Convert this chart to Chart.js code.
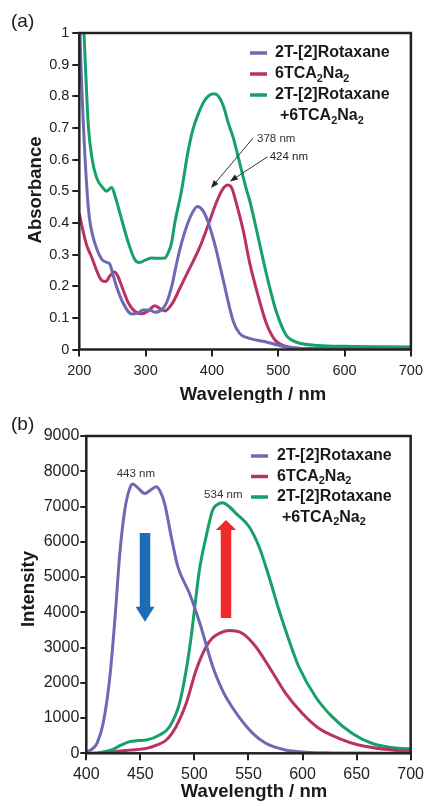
<!DOCTYPE html>
<html>
<head>
<meta charset="utf-8">
<script src="https://cdn.jsdelivr.net/npm/chart.js@4.4.1/dist/chart.umd.min.js"></script>
<style>
html, body { margin: 0; padding: 0; background: #fff; }
canvas { display: block; }
</style>
</head>
<body>
<canvas id="absChart" width="429" height="403"></canvas>
<canvas id="emChart" width="429" height="403"></canvas>
<script>
// series names ("_2" = subscript 2, "|" = second legend line)
const seriesNames = ['2T-[2]Rotaxane', '6TCA_2Na_2', '2T-[2]Rotaxane|+6TCA_2Na_2'];
const seriesColors = ['#6d69b3', '#b83268', '#17a067'];

// (a) absorbance
const absTickLabels = ['0', '0.1', '0.2', '0.3', '0.4', '0.5', '0.6', '0.7', '0.8', '0.9', '1'];
const absWlTicks = [200, 300, 400, 500, 600, 700];

const rotAbsWl = [200, 201, 206, 212, 215, 219, 226, 234, 242, 246, 251, 256, 266, 279, 288, 296, 306, 314, 322, 328, 332, 340, 347, 354, 362, 370, 378, 386, 392, 397, 402, 407, 412, 417, 432, 442, 452, 462, 477, 492, 512, 530, 560, 600, 700];
const rotAbsVal = [1.1, 1.0, 0.72, 0.49, 0.42, 0.37, 0.32, 0.285, 0.275, 0.27, 0.235, 0.2, 0.147, 0.112, 0.115, 0.125, 0.125, 0.118, 0.122, 0.135, 0.15, 0.205, 0.275, 0.335, 0.39, 0.43, 0.452, 0.44, 0.415, 0.385, 0.35, 0.31, 0.265, 0.22, 0.09, 0.05, 0.038, 0.032, 0.026, 0.018, 0.008, 0.004, 0.002, 0.002, 0.002];

const tcaAbsWl = [200, 204, 211, 219, 227, 234, 240, 246, 253, 258, 264, 274, 284, 294, 304, 314, 321, 329, 340, 352, 362, 372, 382, 392, 398, 404, 412, 418, 424, 430, 437, 447, 457, 470, 482, 495, 505, 515, 530, 560, 700];
const tcaAbsVal = [0.43, 0.39, 0.33, 0.29, 0.245, 0.218, 0.215, 0.232, 0.245, 0.232, 0.2, 0.147, 0.12, 0.113, 0.122, 0.138, 0.13, 0.122, 0.145, 0.195, 0.238, 0.28, 0.325, 0.38, 0.415, 0.45, 0.49, 0.512, 0.52, 0.51, 0.46, 0.378, 0.273, 0.167, 0.083, 0.03, 0.015, 0.008, 0.004, 0.003, 0.003];

const mixAbsWl = [200, 207, 210, 213.5, 219, 226, 236, 241, 249, 254, 264, 274, 284, 291, 300, 309, 320, 329, 335, 339, 344, 354, 364, 372, 379, 387, 394, 403, 410, 418, 424, 432, 440, 452, 457, 467, 482, 497, 512, 522, 532, 560, 600, 700];
const mixAbsVal = [1.2, 1.0, 0.86, 0.71, 0.606, 0.543, 0.51, 0.5, 0.512, 0.484, 0.41, 0.337, 0.283, 0.275, 0.283, 0.289, 0.288, 0.289, 0.31, 0.336, 0.4, 0.5, 0.626, 0.7, 0.742, 0.78, 0.8, 0.808, 0.8, 0.765, 0.72, 0.67, 0.605, 0.505, 0.47, 0.38, 0.24, 0.12, 0.045, 0.028, 0.02, 0.013, 0.01, 0.008];

// (b) emission
const emTickLabels = ['0', '1000', '2000', '3000', '4000', '5000', '6000', '7000', '8000', '9000'];
const emWlTicks = [400, 450, 500, 550, 600, 650, 700];

const rotEmWl = [400, 405, 410, 415.6, 421.8, 426.4, 431, 435.6, 440, 443, 448, 454, 460, 464.8, 468, 472.4, 478.6, 484.7, 495.4, 505, 517, 523, 529, 541, 554, 566, 584, 600, 620, 650, 700];
const rotEmVal = [45, 110, 290, 850, 2170, 3780, 5670, 6900, 7500, 7640, 7520, 7370, 7480, 7560, 7450, 7090, 6140, 5290, 4540, 3690, 2455, 1985, 1605, 1040, 567, 284, 94, 40, 15, 5, 0];

const tcaEmWl = [400, 420, 428, 440, 455.6, 465, 474, 483, 492.4, 501.6, 510.8, 516, 523, 532, 544.5, 556.8, 569, 584.4, 599.7, 615, 633.5, 652, 676, 700];
const tcaEmVal = [0, 10, 50, 90, 140, 230, 377, 755, 1418, 2362, 3023, 3250, 3400, 3480, 3400, 3023, 2455, 1700, 1134, 709, 425, 235, 113, 50];

const mixEmWl = [400, 410, 418, 424.8, 432, 440.2, 448, 455.6, 467.8, 477, 486.2, 492.4, 497, 500, 504.6, 510.8, 516.9, 521, 526, 532, 538.4, 550.6, 559.8, 569, 578.2, 587.4, 596.6, 612, 627.3, 645.7, 664, 688.6, 700];
const mixEmVal = [0, 10, 50, 113, 230, 330, 360, 377, 520, 755, 1418, 2362, 3307, 4064, 5200, 6143, 6900, 7050, 7107, 7000, 6807, 6427, 5860, 5008, 4064, 3213, 2455, 1605, 1040, 567, 284, 140, 130];

const FONT = '"Liberation Sans", Arial, Helvetica, sans-serif';

function toPoints(xs, ys) {
    return xs.map((v, i) => ({ x: v, y: ys[i] }));
}

// text with "_2" style subscripts
function drawRich(ctx, text, x, y, size, weight) {
    const parts = text.split(/(_\d)/).filter(Boolean);
    let cx = x;
    parts.forEach(p => {
        if (p[0] === '_') {
            ctx.font = weight + ' ' + (size * 0.68) + 'px ' + FONT;
            ctx.fillText(p.slice(1), cx, y + size * 0.3);
            cx += ctx.measureText(p.slice(1)).width;
        } else {
            ctx.font = weight + ' ' + size + 'px ' + FONT;
            ctx.fillText(p, cx, y);
            cx += ctx.measureText(p).width;
        }
    });
}

function drawArrowLine(ctx, x1, y1, x2, y2) {
    const ang = Math.atan2(y2 - y1, x2 - x1);
    const hl = 8, hw = 3;
    ctx.strokeStyle = '#333';
    ctx.fillStyle = '#222';
    ctx.lineWidth = 1;
    ctx.beginPath();
    ctx.moveTo(x1, y1);
    ctx.lineTo(x2 - Math.cos(ang) * hl, y2 - Math.sin(ang) * hl);
    ctx.stroke();
    ctx.beginPath();
    ctx.moveTo(x2, y2);
    ctx.lineTo(x2 - Math.cos(ang) * hl - Math.sin(ang) * hw, y2 - Math.sin(ang) * hl + Math.cos(ang) * hw);
    ctx.lineTo(x2 - Math.cos(ang) * hl + Math.sin(ang) * hw, y2 - Math.sin(ang) * hl - Math.cos(ang) * hw);
    ctx.closePath();
    ctx.fill();
}

const decorPlugin = {
    id: 'decor',
    beforeDatasetsDraw(chart, args, opts) {
        const { ctx, scales: { x, y } } = chart;
        ctx.save();
        // fat block arrows (b)
        (opts.blockArrows || []).forEach(ar => {
            const cx = x.getPixelForValue(ar.wl);
            const yTail = y.getPixelForValue(ar.tail);
            const yBase = y.getPixelForValue(ar.base);
            const yTip = y.getPixelForValue(ar.tip);
            ctx.fillStyle = ar.color;
            ctx.beginPath();
            ctx.moveTo(cx - ar.shaft / 2, yTail);
            ctx.lineTo(cx + ar.shaft / 2, yTail);
            ctx.lineTo(cx + ar.shaft / 2, yBase);
            ctx.lineTo(cx + ar.head / 2, yBase);
            ctx.lineTo(cx, yTip);
            ctx.lineTo(cx - ar.head / 2, yBase);
            ctx.lineTo(cx - ar.shaft / 2, yBase);
            ctx.closePath();
            ctx.fill();
        });
        ctx.restore();
    },
    afterDraw(chart, args, opts) {
        const { ctx, chartArea: a, scales: { x, y } } = chart;
        ctx.save();
        // frame
        ctx.strokeStyle = '#222';
        ctx.lineWidth = 2.5;
        ctx.strokeRect(a.left, a.top, a.right - a.left, a.bottom - a.top);

        ctx.fillStyle = '#1a1a1a';
        ctx.textBaseline = 'middle';
        // panel label
        ctx.textAlign = 'left';
        ctx.font = '19px ' + FONT;
        ctx.fillText(opts.panel, 11, 22);

        // axis titles
        ctx.font = 'bold 18.5px ' + FONT;
        ctx.textAlign = 'center';
        ctx.fillText('Wavelength / nm', opts.xTitle[0], opts.xTitle[1]);
        ctx.save();
        ctx.translate(opts.yTitle[0], opts.yTitle[1]);
        ctx.rotate(-Math.PI / 2);
        ctx.fillText(opts.yTitleText, 0, 0);
        ctx.restore();

        // legend
        ctx.textAlign = 'left';
        const lg = opts.legend;
        let row = 0;
        seriesNames.forEach((name, i) => {
            const lines = name.split('|');
            const ly = lg.top + row * lg.step;
            ctx.strokeStyle = seriesColors[i];
            ctx.lineWidth = 3.5;
            ctx.beginPath();
            ctx.moveTo(lg.lineX, ly);
            ctx.lineTo(lg.lineX + 17, ly);
            ctx.stroke();
            ctx.fillStyle = '#1a1a1a';
            lines.forEach((t, k) => {
                drawRich(ctx, t, lg.textX + (k > 0 ? 5 : 0), lg.top + (row + k) * lg.step, 16, 'bold');
            });
            row += lines.length;
        });

        // small annotations
        ctx.fillStyle = '#333';
        (opts.notes || []).forEach(n => {
            ctx.font = '11.5px ' + FONT;
            ctx.textAlign = n.align;
            ctx.fillText(n.text, x.getPixelForValue(n.wl), y.getPixelForValue(n.v));
            if (n.arrow) {
                drawArrowLine(ctx,
                    x.getPixelForValue(n.arrow[0]), y.getPixelForValue(n.arrow[1]),
                    x.getPixelForValue(n.arrow[2]), y.getPixelForValue(n.arrow[3]));
            }
        });
        ctx.restore();
    }
};

function makeChart(id, cfg) {
    const ctx = document.getElementById(id).getContext('2d');
    return new Chart(ctx, {
        type: 'line',
        data: {
            datasets: cfg.series.map((s, i) => ({
                label: seriesNames[i],
                data: toPoints(s[0], s[1]),
                borderColor: seriesColors[i],
                borderWidth: 3,
                pointRadius: 0,
                fill: false,
                tension: 0.4,
                cubicInterpolationMode: 'monotone'
            }))
        },
        options: {
            responsive: false,
            animation: false,
            devicePixelRatio: 1,
            layout: { padding: { top: 33, right: cfg.right, left: 0, bottom: 0 } },
            plugins: {
                legend: { display: false },
                tooltip: { enabled: false },
                decor: cfg.decor
            },
            scales: {
                x: {
                    type: 'linear',
                    min: cfg.xTicks[0],
                    max: cfg.xTicks[cfg.xTicks.length - 1],
                    afterBuildTicks: sc => { sc.ticks = cfg.xTicks.map(v => ({ value: v })); },
                    afterFit: sc => { sc.height = cfg.xHeight; },
                    border: { display: false },
                    grid: { drawOnChartArea: false, drawTicks: true, tickLength: 7, color: '#222', lineWidth: 2 },
                    ticks: {
                        color: '#222',
                        padding: cfg.xPad,
                        maxRotation: 0,
                        font: { family: FONT, size: cfg.tickSize },
                        callback: v => String(v)
                    }
                },
                y: {
                    min: 0,
                    max: cfg.yMax,
                    afterBuildTicks: sc => { sc.ticks = cfg.yLabels.map((t, i) => ({ value: i * cfg.yStep })); },
                    afterFit: sc => { sc.width = cfg.left; },
                    border: { display: false },
                    grid: { drawOnChartArea: false, drawTicks: true, tickLength: cfg.yTickLen, color: '#222', lineWidth: 2 },
                    ticks: {
                        color: '#222',
                        padding: cfg.yPad,
                        font: { family: FONT, size: cfg.tickSize },
                        callback: (v, i) => cfg.yLabels[i]
                    }
                }
            }
        },
        plugins: [decorPlugin]
    });
}

makeChart('absChart', {
    series: [[rotAbsWl, rotAbsVal], [tcaAbsWl, tcaAbsVal], [mixAbsWl, mixAbsVal]],
    xTicks: absWlTicks, yLabels: absTickLabels, yStep: 0.1, yMax: 1,
    left: 79.3, right: 18, xHeight: 53.5, tickSize: 14.5, xPad: 6, yPad: 3, yTickLen: 7,
    decor: {
        panel: '(a)',
        xTitle: [253, 395], yTitle: [36, 190], yTitleText: 'Absorbance',
        legend: { lineX: 250, textX: 275, top: 53, step: 21 },
        notes: [
            { text: '378 nm', wl: 468, v: 0.665, align: 'left', arrow: [462, 0.668, 398.5, 0.51] },
            { text: '424 nm', wl: 487, v: 0.609, align: 'left', arrow: [484, 0.609, 427, 0.531] }
        ]
    }
});

makeChart('emChart', {
    series: [[rotEmWl, rotEmVal], [tcaEmWl, tcaEmVal], [mixEmWl, mixEmVal]],
    xTicks: emWlTicks, yLabels: emTickLabels, yStep: 1000, yMax: 9000,
    left: 86.3, right: 16.7, xHeight: 52.7, tickSize: 16, xPad: 5, yPad: 1, yTickLen: 6,
    decor: {
        panel: '(b)',
        xTitle: [254, 389], yTitle: [29, 186], yTitleText: 'Intensity',
        legend: { lineX: 251, textX: 277, top: 53, step: 20.5 },
        notes: [
            { text: '443 nm', wl: 445.8, v: 7921, align: 'center' },
            { text: '534 nm', wl: 526.7, v: 7326, align: 'center' }
        ],
        blockArrows: [
            { wl: 454.3, tail: 6248, base: 4158, tip: 3732, shaft: 10.5, head: 19, color: '#1b6cb4' },
            { wl: 529.2, tail: 3837, base: 6333, tip: 6617, shaft: 10.5, head: 20.5, color: '#ee2a2a' }
        ]
    }
});
</script>
</body>
</html>
